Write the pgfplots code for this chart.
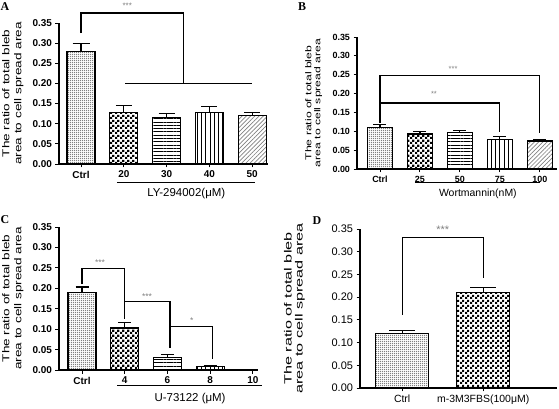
\documentclass[border=0pt]{standalone}
\usepackage{pgfplots}
\pgfplotsset{compat=1.18}
\usepackage{fontspec}
\setmainfont{Liberation Sans}
\newfontfamily\serifb{Liberation Serif}
\usetikzlibrary{patterns,patterns.meta}

\tikzdeclarepattern{name=checker, type=uncolored, bottom left={(0bp,0bp)}, top right={(5bp,5bp)}, tile size={(5bp,5bp)},
  code={\pgfpathrectangle{\pgfpoint{0bp}{0bp}}{\pgfpoint{2.5bp}{2.5bp}}\pgfpathrectangle{\pgfpoint{2.5bp}{2.5bp}}{\pgfpoint{2.5bp}{2.5bp}}\pgfusepath{fill}}}
\tikzdeclarepattern{name=ctrldots, type=uncolored, bottom left={(0bp,0bp)}, top right={(2.4bp,2.4bp)}, tile size={(2.4bp,2.4bp)},
  code={\pgfpathrectangle{\pgfpoint{0bp}{0bp}}{\pgfpoint{1.3bp}{1.3bp}}\pgfusepath{fill}}}

\pgfplotsset{
  panel/.style={scale only axis, anchor=south west,
    axis x line*=bottom, axis y line*=left,
    ymin=0, ymax=0.35, ytick={0,0.05,0.10,0.15,0.20,0.25,0.30,0.35},
    xtick={0,1,2,3,4},
    clip=false, tick align=outside, major tick length=3.5bp,
    axis line style={line width=1.1bp},
    every tick/.style={black,line width=0.9bp},
    /pgf/number format/assume math mode=true,
    yticklabel style={/pgf/number format/fixed, /pgf/number format/fixed zerofill, /pgf/number format/precision=2},
    ylabel style={anchor=center, align=center},
  },
  mybar/.style={ybar, bar shift=0pt, draw=black, line width=1.2bp,
    /pgfplots/error bars/y dir=plus, /pgfplots/error bars/y explicit,
    /pgfplots/error bars/error bar style={line width=1.2bp, black, solid},
    /pgfplots/error bars/error mark options={rotate=90, mark size=#1, line width=1.2bp, black, solid}},
}
\newcommand{\ylab}[3]{\scalebox{#3}[1]{\fontsize{#1}{#2}\selectfont\begin{tabular}{@{}c@{}}The ratio of total bleb\\area to cell spread area\end{tabular}}}

\begin{document}
\begin{tikzpicture}
\useasboundingbox (0,0) rectangle (559bp,409bp);

% ---------- Panel A ----------
\begin{axis}[panel, at={(59bp,245bp)}, width=209bp, height=141bp,
  xmin=-0.515, xmax=4.37, xticklabels={Ctrl,20,30,40,50},
  ticklabel style={font=\bfseries\fontsize{10}{11}\selectfont},
  ylabel={\ylab{10}{12}{1.36}},
  ylabel style={at={(axis description cs:-0.22,0.5)}}]
\addplot[mybar=8.5bp, bar width=0.655, pattern=ctrldots, pattern color=gray] coordinates {(0,0.28) +- (0,0.02)};
\addplot[mybar=8bp, bar width=0.655, pattern=checker, pattern color=black] coordinates {(1,0.128) +- (0,0.017)};
\addplot[mybar=8bp, bar width=0.655, pattern={Lines[angle=0,distance=3.3bp,line width=0.7bp]}, pattern color=black] coordinates {(2,0.115) +- (0,0.010)};
\addplot[mybar=8bp, bar width=0.655, pattern={Lines[angle=90,distance=4.2bp,line width=0.7bp]}, pattern color=black] coordinates {(3,0.128) +- (0,0.015)};
\addplot[mybar=8bp, bar width=0.655, pattern={Lines[angle=45,distance=3bp,line width=0.7bp]}, pattern color=gray] coordinates {(4,0.120) +- (0,0.008)};
\draw[line width=1.2bp] (axis cs:0,0.325) -- (axis cs:0,0.375) -- (axis cs:2.39,0.375) -- (axis cs:2.39,0.20);
\draw[line width=1.2bp] (axis cs:1.03,0.20) -- (axis cs:4.0,0.20);
\node[gray, font=\fontsize{8}{8}\selectfont] at (axis cs:1.08,0.393) {***};
\draw[line width=1bp] (axis cs:0.84,-0.0447) -- (axis cs:4.07,-0.0447);
\node[font=\fontsize{11.5}{12}\selectfont] at (axis cs:2.46,-0.074) {LY-294002(μM)};
\end{axis}

% ---------- Panel B ----------
\begin{axis}[panel, at={(357bp,240bp)}, width=200bp, height=132bp,
  xmin=-0.575, xmax=4.43, xticklabels={Ctrl,25,50,75,100},
  ticklabel style={font=\bfseries\fontsize{9}{10}\selectfont},
  ylabel={\ylab{8.5}{9}{1.44}},
  ylabel style={at={(axis description cs:-0.215,0.5)}}]
\addplot[mybar=6.5bp, bar width=0.625, pattern=ctrldots, pattern color=gray] coordinates {(0,0.110) +- (0,0.007)};
\addplot[mybar=6.5bp, bar width=0.625, pattern=checker, pattern color=black] coordinates {(1,0.093) +- (0,0.007)};
\addplot[mybar=6.5bp, bar width=0.625, pattern={Lines[angle=0,distance=3.3bp,line width=0.7bp]}, pattern color=black] coordinates {(2,0.097) +- (0,0.006)};
\addplot[mybar=6.5bp, bar width=0.625, pattern={Lines[angle=90,distance=4.2bp,line width=0.7bp]}, pattern color=black] coordinates {(3,0.079) +- (0,0.007)};
\addplot[mybar=6.5bp, bar width=0.625, pattern={Lines[angle=45,distance=3bp,line width=0.7bp]}, pattern color=gray] coordinates {(4,0.074) +- (0,0.004)};
\draw[line width=1.2bp] (axis cs:0,0.122) -- (axis cs:0,0.247) -- (axis cs:4,0.247) -- (axis cs:4,0.095);
\draw[line width=1.2bp] (axis cs:0,0.175) -- (axis cs:3,0.175) -- (axis cs:3,0.097);
\node[gray, font=\fontsize{7.5}{7.5}\selectfont] at (axis cs:1.83,0.266) {***};
\node[gray, font=\fontsize{7.5}{7.5}\selectfont] at (axis cs:1.35,0.198) {**};
\draw[line width=1bp] (axis cs:0.875,-0.037) -- (axis cs:4.0,-0.037);
\node[font=\fontsize{10.5}{12}\selectfont] at (axis cs:2.45,-0.066) {Wortmannin(nM)};
\end{axis}

% ---------- Panel C ----------
\begin{axis}[panel, at={(59bp,39bp)}, width=199bp, height=143bp,
  xmin=-0.54, xmax=4.12, xticklabels={Ctrl,4,6,8,10},
  ticklabel style={font=\bfseries\fontsize{10}{11}\selectfont},
  ylabel={\ylab{10}{12}{1.36}},
  ylabel style={at={(axis description cs:-0.231,0.5)}}]
\addplot[mybar=6.5bp, bar width=0.655, pattern=ctrldots, pattern color=gray] coordinates {(0,0.190) +- (0,0.013)};
\addplot[mybar=6.5bp, bar width=0.655, pattern=checker, pattern color=black] coordinates {(1,0.103) +- (0,0.014)};
\addplot[mybar=6.5bp, bar width=0.655, pattern={Lines[angle=0,distance=3.3bp,line width=0.7bp]}, pattern color=black] coordinates {(2,0.030) +- (0,0.007)};
\addplot[mybar=6.5bp, bar width=0.655, pattern={Lines[angle=90,distance=4.2bp,line width=0.7bp]}, pattern color=black] coordinates {(3,0.008) +- (0,0.003)};
\draw[line width=1.2bp] (axis cs:0,0.21) -- (axis cs:0,0.248) -- (axis cs:1,0.248) -- (axis cs:1,0.126);
\draw[line width=1.2bp] (axis cs:1,0.167) -- (axis cs:2.06,0.167) -- (axis cs:2.06,0.053);
\draw[line width=1.2bp] (axis cs:2.06,0.107) -- (axis cs:3.06,0.107) -- (axis cs:3.06,0.028);
\node[gray, font=\fontsize{8.5}{8.5}\selectfont] at (axis cs:0.42,0.262) {***};
\node[gray, font=\fontsize{8.5}{8.5}\selectfont] at (axis cs:1.52,0.180) {***};
\node[gray, font=\fontsize{8.5}{8.5}\selectfont] at (axis cs:2.57,0.120) {*};
\draw[line width=1bp] (axis cs:0.82,-0.039) -- (axis cs:4.21,-0.039);
\node[font=\fontsize{11.5}{12}\selectfont] at (axis cs:2.53,-0.070) {U-73122 (μM)};
\end{axis}

% ---------- Panel D ----------
\begin{axis}[panel, at={(360bp,21bp)}, width=197bp, height=159bp,
  xmin=-0.52, xmax=1.91, xtick={0,1}, xticklabels={Ctrl,m-3M3FBS(100μM)},
  xticklabel style={font=\fontsize{10.5}{11}\selectfont},
  yticklabel style={font=\fontsize{11}{12}\selectfont},
  ylabel={\ylab{10.5}{11}{1.55}},
  ylabel style={at={(axis description cs:-0.33,0.5)}}]
\addplot[mybar=13bp, bar width=0.65, pattern=ctrldots, pattern color=gray] coordinates {(0,0.120) +- (0,0.006)};
\addplot[mybar=13bp, bar width=0.65, pattern=checker, pattern color=black] coordinates {(1,0.210) +- (0,0.012)};
\draw[line width=1.2bp] (axis cs:0,0.161) -- (axis cs:0,0.331) -- (axis cs:1,0.331) -- (axis cs:1,0.243);
\node[gray, font=\fontsize{11}{11}\selectfont] at (axis cs:0.5,0.348) {***};
\end{axis}

% panel letters
\node[font=\serifb\bfseries\fontsize{12}{12}\selectfont] at (5bp,402bp) {A};
\node[font=\serifb\bfseries\fontsize{12}{12}\selectfont] at (302bp,402bp) {B};
\node[font=\serifb\bfseries\fontsize{12}{12}\selectfont] at (5bp,189bp) {C};
\node[font=\serifb\bfseries\fontsize{12}{12}\selectfont] at (317bp,188bp) {D};
\end{tikzpicture}
\end{document}
